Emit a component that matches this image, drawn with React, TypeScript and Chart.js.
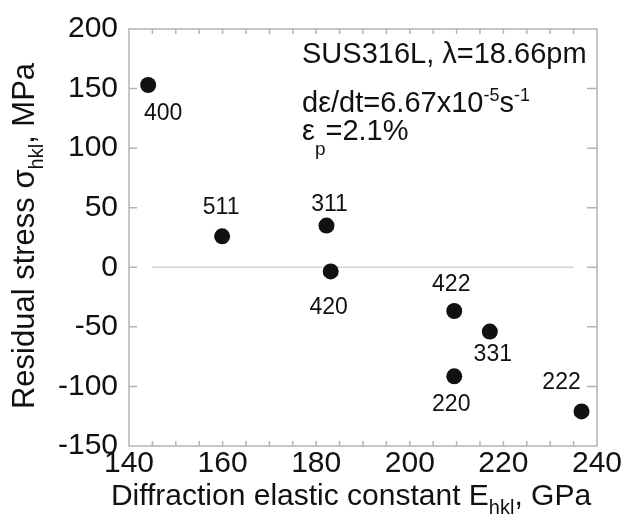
import { useEffect, useRef } from 'react';
import { Chart, registerables } from 'chart.js';

Chart.register(...registerables);

// ---- data ----
const hklLabels = ['400', '511', '311', '420', '422', '331', '220', '222'];
const elasticConstant = [144.1, 159.9, 182.2, 183.1, 209.5, 217.1, 209.5, 236.7];
const residualStress = [153, 26, 35, -3.5, -36.7, -54, -91.5, -121];
const zeroLineX = [145, 235];
const zeroLineY = [0, 0];
const xMin = 140, xMax = 240, xStep = 20, xMinorStep = 5;
const yMin = -150, yMax = 200, yStep = 50;

// label placement offsets (px) relative to each point
const labelOffsets: [number, number][] = [
  [15, 29], [-1, -29], [3, -21], [-2, 36], [-3, -26], [3, 23], [-3, 28], [-20, -29],
];

const FONT = '"Liberation Sans", Arial, Helvetica, sans-serif';
const TEXT = '#111111';
const FRAME = '#b4b4b4';

type Part = { t: string; size: number; dy: number };

function richWidth(ctx: CanvasRenderingContext2D, parts: Part[]) {
  let w = 0;
  for (const p of parts) {
    ctx.font = `${p.size}px ${FONT}`;
    w += ctx.measureText(p.t).width;
  }
  return w;
}

function drawRich(ctx: CanvasRenderingContext2D, x: number, y: number, parts: Part[]) {
  let cx = x;
  ctx.textAlign = 'left';
  ctx.textBaseline = 'alphabetic';
  for (const p of parts) {
    ctx.font = `${p.size}px ${FONT}`;
    ctx.fillText(p.t, cx, y + p.dy);
    cx += ctx.measureText(p.t).width;
  }
}

const framePlugin = {
  id: 'frameAndText',
  beforeDatasetsDraw(chart: any) {
    const { ctx, chartArea: a, scales } = chart;
    const xs = scales.x, ys = scales.y;
    ctx.save();
    ctx.strokeStyle = FRAME;
    ctx.lineWidth = 1.5;
    ctx.strokeRect(a.left, a.top, a.right - a.left, a.bottom - a.top);
    ctx.beginPath();
    for (let v = xMin + xMinorStep; v < xMax; v += xMinorStep) {
      const px = xs.getPixelForValue(v);
      ctx.moveTo(px, a.top);
      ctx.lineTo(px, a.top + 5);
      ctx.moveTo(px, a.bottom);
      ctx.lineTo(px, a.bottom - 5);
    }
    for (let v = yMin + yStep; v < yMax; v += yStep) {
      const py = ys.getPixelForValue(v);
      ctx.moveTo(a.left, py);
      ctx.lineTo(a.left + 8, py);
      ctx.moveTo(a.right, py);
      ctx.lineTo(a.right - 10, py);
    }
    ctx.stroke();
    ctx.restore();
  },
  afterDraw(chart: any) {
    const { ctx, scales } = chart;
    const xs = scales.x, ys = scales.y;
    ctx.save();
    ctx.fillStyle = TEXT;

    // point labels
    ctx.font = `23px ${FONT}`;
    ctx.textAlign = 'center';
    ctx.textBaseline = 'middle';
    hklLabels.forEach((lab, i) => {
      const px = xs.getPixelForValue(elasticConstant[i]) + labelOffsets[i][0];
      const py = ys.getPixelForValue(residualStress[i]) + labelOffsets[i][1];
      ctx.fillText(lab, px, py);
    });

    // annotation
    drawRich(ctx, 302, 63, [{ t: 'SUS316L, λ=18.66pm', size: 29, dy: 0 }]);
    drawRich(ctx, 302, 112, [
      { t: 'dε/dt=6.67x10', size: 29, dy: 0 },
      { t: '-5', size: 18, dy: -11 },
      { t: 's', size: 29, dy: 0 },
      { t: '-1', size: 18, dy: -11 },
    ]);
    drawRich(ctx, 302, 140, [
      { t: 'ε', size: 29, dy: 0 },
      { t: 'p', size: 19, dy: 15 },
      { t: '=2.1%', size: 29, dy: 0 },
    ]);

    // x title
    const xParts: Part[] = [
      { t: 'Diffraction elastic constant E', size: 30, dy: 0 },
      { t: 'hkl', size: 20, dy: 9 },
      { t: ', GPa', size: 30, dy: 0 },
    ];
    const xw = richWidth(ctx, xParts);
    drawRich(ctx, 351 - xw / 2, 505, xParts);

    // y title
    const yParts: Part[] = [
      { t: 'Residual stress σ', size: 31, dy: 0 },
      { t: 'hkl', size: 20, dy: 9 },
      { t: ', MPa', size: 31, dy: 0 },
    ];
    const yw = richWidth(ctx, yParts);
    ctx.translate(34, 236);
    ctx.rotate(-Math.PI / 2);
    drawRich(ctx, -yw / 2, 0, yParts);
    ctx.restore();
  },
};

export default function App() {
  const ref = useRef<HTMLCanvasElement>(null);
  useEffect(() => {
    if (!ref.current) return;
    const chart = new Chart(ref.current, {
      type: 'scatter',
      data: {
        datasets: [
          {
            label: 'hkl',
            data: elasticConstant.map((x, i) => ({ x, y: residualStress[i] })),
            backgroundColor: '#111111',
            borderWidth: 0,
            pointRadius: 8,
            pointHoverRadius: 8,
          },
          {
            label: 'zero',
            type: 'line',
            data: zeroLineX.map((x, i) => ({ x, y: zeroLineY[i] })),
            borderColor: '#d4d4d4',
            borderWidth: 1.5,
            pointRadius: 0,
            showLine: true,
            fill: false,
          } as any,
        ],
      },
      options: {
        responsive: false,
        animation: false,
        devicePixelRatio: 1,
        layout: { padding: { top: 26, right: 25, left: 0, bottom: 0 } },
        plugins: { legend: { display: false }, tooltip: { enabled: false }, title: { display: false } },
        events: [],
        scales: {
          x: {
            type: 'linear',
            min: xMin,
            max: xMax,
            grid: { display: false, drawTicks: false },
            border: { display: false },
            ticks: {
              stepSize: xStep,
              color: TEXT,
              font: { size: 30, family: FONT },
              padding: 0,
              maxRotation: 0,
            },
            afterFit: (s: any) => { s.height = 79; },
          },
          y: {
            type: 'linear',
            min: yMin,
            max: yMax,
            grid: { display: false, drawTicks: false },
            border: { display: false },
            ticks: {
              stepSize: yStep,
              color: TEXT,
              font: { size: 30, family: FONT },
              padding: 11,
            },
            afterFit: (s: any) => { s.width = 129; },
          },
        },
      },
      plugins: [framePlugin],
    });
    return () => chart.destroy();
  }, []);
  return (
    <div style={{ position: 'fixed', left: 0, top: 0, width: 622, height: 525, background: '#fff' }}>
      <canvas ref={ref} width={622} height={525} style={{ display: 'block', width: 622, height: 525 }} />
    </div>
  );
}
